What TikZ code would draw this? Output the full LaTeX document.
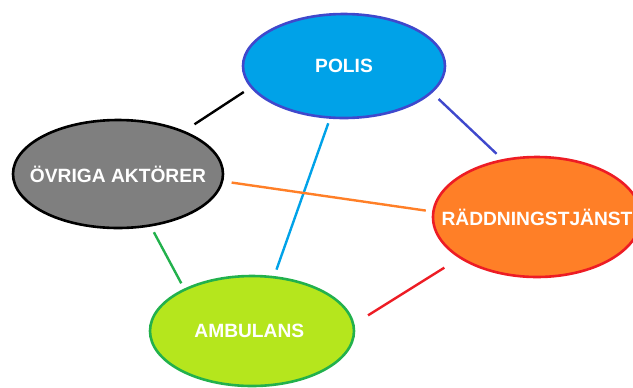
\documentclass[tikz,border=0pt]{standalone}
\usepackage{fontspec}
\setmainfont{Liberation Sans}
\usetikzlibrary{shapes.geometric}

\begin{document}
\begin{tikzpicture}[x=0.5pt, y=-0.5pt]
    \tikzstyle{act} = [ellipse, draw, line width=1.3pt, inner sep=0pt, text=white, font=\bfseries\fontsize{9.6}{11}\selectfont]
    \tikzstyle{leg} = [line width=1.2pt]

    \definecolor{albastru}{RGB}{0,162,232}
    \definecolor{indigo}{RGB}{63,72,204}
    \definecolor{gri}{RGB}{127,127,127}
    \definecolor{portocaliu}{RGB}{255,127,39}
    \definecolor{rosu}{RGB}{237,28,36}
    \definecolor{lime}{RGB}{181,230,29}
    \definecolor{verde}{RGB}{34,177,76}

    \clip (0,0) rectangle (633,387);

    % Desenează actorii.
    \foreach \x/\y/\w/\h/\nume/\umplere/\contur/\eticheta in {
            344/66/101/52/polis/albastru/indigo/POLIS,
            118/174/105/54/ovriga/gri/black/ÖVRIGA AKTÖRER,
            537/217/104/60/radd/portocaliu/rosu/RÄDDNINGSTJÄNST,
            252/331/102/55/amb/lime/verde/AMBULANS
    } {
        \node[act, fill=\umplere, draw=\contur, minimum width=\w pt, minimum height=\h pt] (\nume) at (\x,\y) {\makebox[0pt]{\eticheta}};
    }

    % Desenează legăturile.
    \foreach \a/\ua/\b/\ub/\cul/\sa/\sb in {
            ovriga/33/polis/193/black/6/4,
            polis/-17/radd/121/indigo/4.4/3.9,
            polis/255/amb/68/albastru/2.4/3.4,
            ovriga/-4/radd/177/portocaliu/4.2/3.2,
            ovriga/-58/amb/148/verde/3.2/3,
            amb/4/radd/-152/rosu/8/8.8
    } {
        \draw[leg, color=\cul, shorten <=\sa pt, shorten >=\sb pt] (\a.\ua) -- (\b.\ub);
    }

\end{tikzpicture}
\end{document}
